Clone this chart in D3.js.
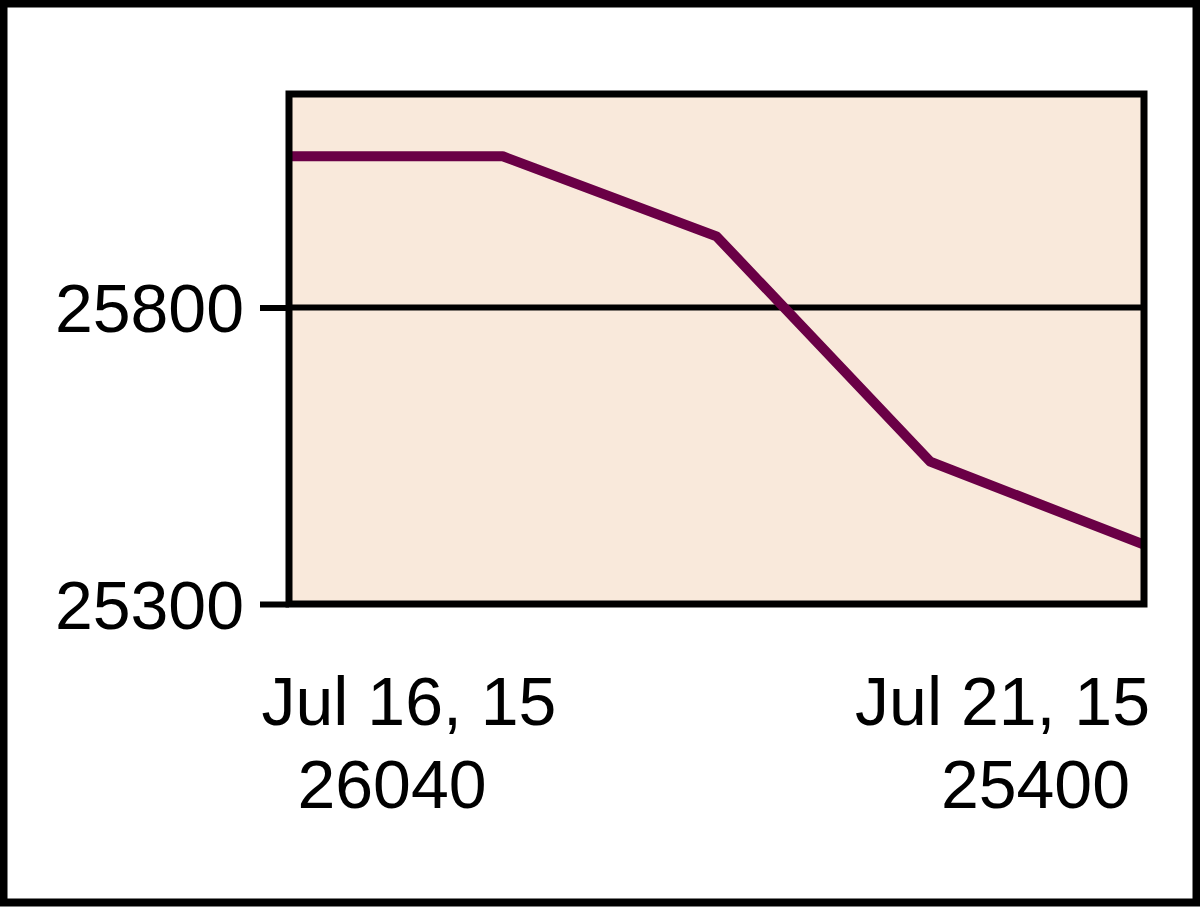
<!DOCTYPE html>
<html>
<head>
<meta charset="utf-8">
<script src="https://cdn.jsdelivr.net/npm/d3@7"></script>
<style>
  html, body { margin: 0; padding: 0; background: #fff; }
  svg { display: block; }
  text { font-family: "Liberation Sans", Arial, sans-serif; fill: #000; }
</style>
</head>
<body>
<script>
// ---- data ----
const pointIndex = [0, 1, 2, 3, 4];
const values = [26055, 26055, 25920, 25540, 25400];
const yTicks = [25300, 25800];
const yDomain = [25300, 26160];
const xLabelDates = ["Jul 16, 15", "Jul 21, 15"];
const xLabelValues = ["26040", "25400"];

// ---- layout ----
const W = 1200, H = 908;
const plot = { left: 289, right: 1144, top: 94, bottom: 604 };

const svg = d3.select("body").append("svg").attr("width", W).attr("height", H);

// outer frame
svg.append("rect")
  .attr("x", 3.5).attr("y", 3.5).attr("width", W - 7).attr("height", H - 9)
  .attr("fill", "#fff").attr("stroke", "#000").attr("stroke-width", 8);

const x = d3.scaleLinear().domain(d3.extent(pointIndex)).range([plot.left, plot.right]);
const y = d3.scaleLinear().domain(yDomain).range([plot.bottom, plot.top]);

// plot background
svg.append("rect")
  .attr("x", plot.left).attr("y", plot.top)
  .attr("width", plot.right - plot.left).attr("height", plot.bottom - plot.top)
  .attr("fill", "#f9e9db");

// y axis ticks + labels
const yAxis = d3.axisLeft(y).tickValues(yTicks).tickSize(29).tickPadding(16).tickFormat(d3.format("d"));
const gy = svg.append("g").attr("transform", `translate(${plot.left},0)`).call(yAxis);
gy.select(".domain").remove();
gy.selectAll(".tick line").attr("stroke", "#000").attr("stroke-width", 6);
gy.selectAll(".tick text").attr("font-size", 68).attr("fill", "#000")
  .attr("font-family", "'Liberation Sans', Arial, sans-serif").attr("dy", "0.36em");

// gridlines
svg.append("g").selectAll("line").data(yTicks).join("line")
  .attr("x1", plot.left).attr("x2", plot.right)
  .attr("y1", d => y(d)).attr("y2", d => y(d))
  .attr("stroke", "#000").attr("stroke-width", 6);

// data line
const line = d3.line().x((d, i) => x(pointIndex[i])).y(d => y(d));
svg.append("path")
  .datum(values)
  .attr("d", line)
  .attr("fill", "none")
  .attr("stroke", "#6a0046")
  .attr("stroke-width", 10)
  .attr("stroke-linejoin", "round");

// plot frame
svg.append("rect")
  .attr("x", plot.left).attr("y", plot.top)
  .attr("width", plot.right - plot.left).attr("height", plot.bottom - plot.top)
  .attr("fill", "none").attr("stroke", "#000").attr("stroke-width", 7);

// x labels (first and last point)
const xPos = [x(pointIndex[0]), x(pointIndex[pointIndex.length - 1])];
const gx = svg.append("g").attr("font-size", 68);
// first label
gx.append("text").attr("x", xPos[0] + 120).attr("y", 725).attr("text-anchor", "middle").text(xLabelDates[0]);
gx.append("text").attr("x", xPos[0] + 103).attr("y", 808).attr("text-anchor", "middle").text(xLabelValues[0]);
// last label
gx.append("text").attr("x", xPos[1] + 6).attr("y", 725).attr("text-anchor", "end").text(xLabelDates[1]);
gx.append("text").attr("x", xPos[1] - 14).attr("y", 808).attr("text-anchor", "end").text(xLabelValues[1]);
</script>
</body>
</html>
